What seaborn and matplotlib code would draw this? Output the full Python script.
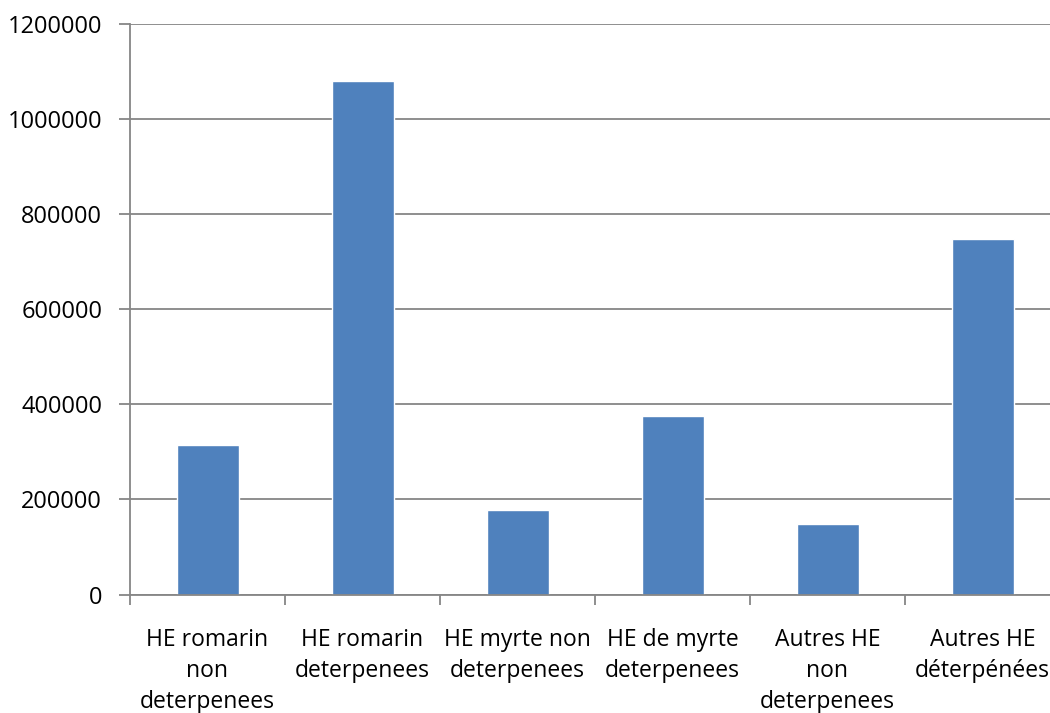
import numpy as np
import pandas as pd
import seaborn as sns
import matplotlib.pyplot as plt
from matplotlib.ticker import FixedLocator

sns.set_style("white")
plt.rcParams['font.family'] = ['Open Sans', 'DejaVu Sans']

categories = ["HE romarin\nnon\ndeterpenees", "HE romarin\ndeterpenees",
              "HE myrte non\ndeterpenees", "HE de myrte\ndeterpenees",
              "Autres HE\nnon\ndeterpenees", "Autres HE\ndéterpénées"]
values = [315000, 1080000, 177000, 376000, 148000, 748000]
yticks = [0, 200000, 400000, 600000, 800000, 1000000, 1200000]

d = pd.DataFrame({"cat": categories, "val": values})

fig = plt.figure(figsize=(10.5, 7.13), dpi=100)
ax = fig.add_axes([130 / 1050, (713 - 594.5) / 713, 930 / 1050, 570.5 / 713])

sns.barplot(data=d, x="cat", y="val", color="#4F81BD", saturation=1,
            width=0.4, ax=ax)

ax.set_xlim(-0.5, 5.5)
ax.set_ylim(0, 1200000)
ax.set_yticks(yticks)
ax.set_yticklabels([str(v) for v in yticks])
ax.yaxis.grid(True, color="#868686", linewidth=1.3)
ax.set_axisbelow(True)
ax.set_xlabel("")
ax.set_ylabel("")

for s in ["top", "right"]:
    ax.spines[s].set_visible(False)
for s in ["left", "bottom"]:
    ax.spines[s].set_color("#868686")
    ax.spines[s].set_linewidth(1.3)

# category boundary ticks on x, labels between them
ax.xaxis.set_minor_locator(FixedLocator(np.arange(-0.5, 6, 1)))
ax.tick_params(axis="x", which="major", length=0, pad=24, labelsize=16.5,
               labelcolor="black")
ax.tick_params(axis="x", which="minor", length=7, width=1.3, color="#868686",
               bottom=True)
ax.tick_params(axis="y", length=8, width=1.3, color="#868686", left=True,
               labelsize=17, labelcolor="black", pad=12)
for t in ax.get_xticklabels():
    t.set_linespacing(1.38)

fig.savefig("out.png", dpi=100)
